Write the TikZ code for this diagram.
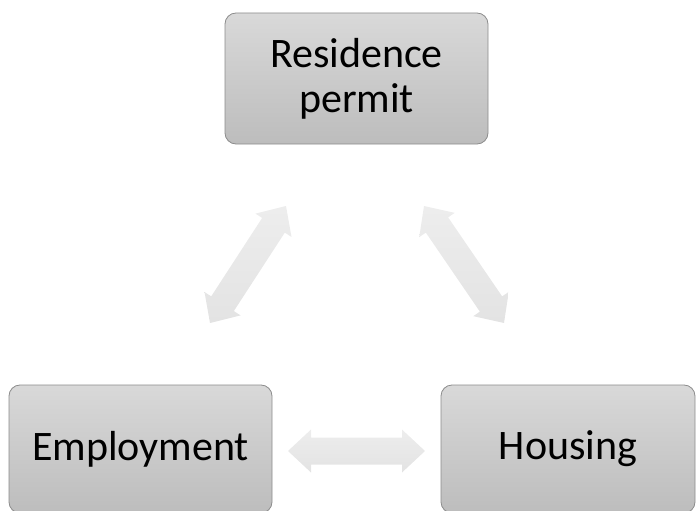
\documentclass[tikz,border=0pt]{standalone}
\usepackage{fontspec}
\setmainfont{Carlito}
\usetikzlibrary{calc}
\begin{document}
\begin{tikzpicture}[x=1pt,y=-1pt,
  box/.style={draw=black!45, line width=0.8pt, rounded corners=11pt,
    top color=black!15, bottom color=black!26, minimum width=263pt,
    align=center, font=\fontsize{42}{45}\selectfont, text=black, inner sep=0pt},
  arrowfill/.style={top color=black!7, bottom color=black!11, draw=none}]
\useasboundingbox (0,0) rectangle (697,511);
\node[box, minimum height=131pt] (res) at (356.5,78.5) {Residence\\permit};
\node[box, minimum height=128pt] (emp) at (140.5,449) {Employment};
\node[box, minimum height=128pt, minimum width=254pt] (hou) at (568,449) {Housing};
% arrow tips
\coordinate (L1) at (210,323); \coordinate (L2) at (286,206);
\coordinate (R1) at (424,206); \coordinate (R2) at (504,323);
\coordinate (H1) at (288,451); \coordinate (H2) at (425,451);
\newcommand\dblarr[2]{%
  \shade[arrowfill] (#1)
    -- ($(#1)!23pt!(#2)!21.5pt!90:(#2)$)
    -- ($(#1)!23pt!(#2)!13.5pt!90:(#2)$)
    -- ($(#2)!23pt!(#1)!13.5pt!-90:(#1)$)
    -- ($(#2)!23pt!(#1)!21.5pt!-90:(#1)$)
    -- (#2)
    -- ($(#2)!23pt!(#1)!21.5pt!90:(#1)$)
    -- ($(#2)!23pt!(#1)!13.5pt!90:(#1)$)
    -- ($(#1)!23pt!(#2)!13.5pt!-90:(#2)$)
    -- ($(#1)!23pt!(#2)!21.5pt!-90:(#2)$)
    -- cycle;}
\dblarr{L1}{L2}
\dblarr{R1}{R2}
\dblarr{H1}{H2}
\end{tikzpicture}
\end{document}
